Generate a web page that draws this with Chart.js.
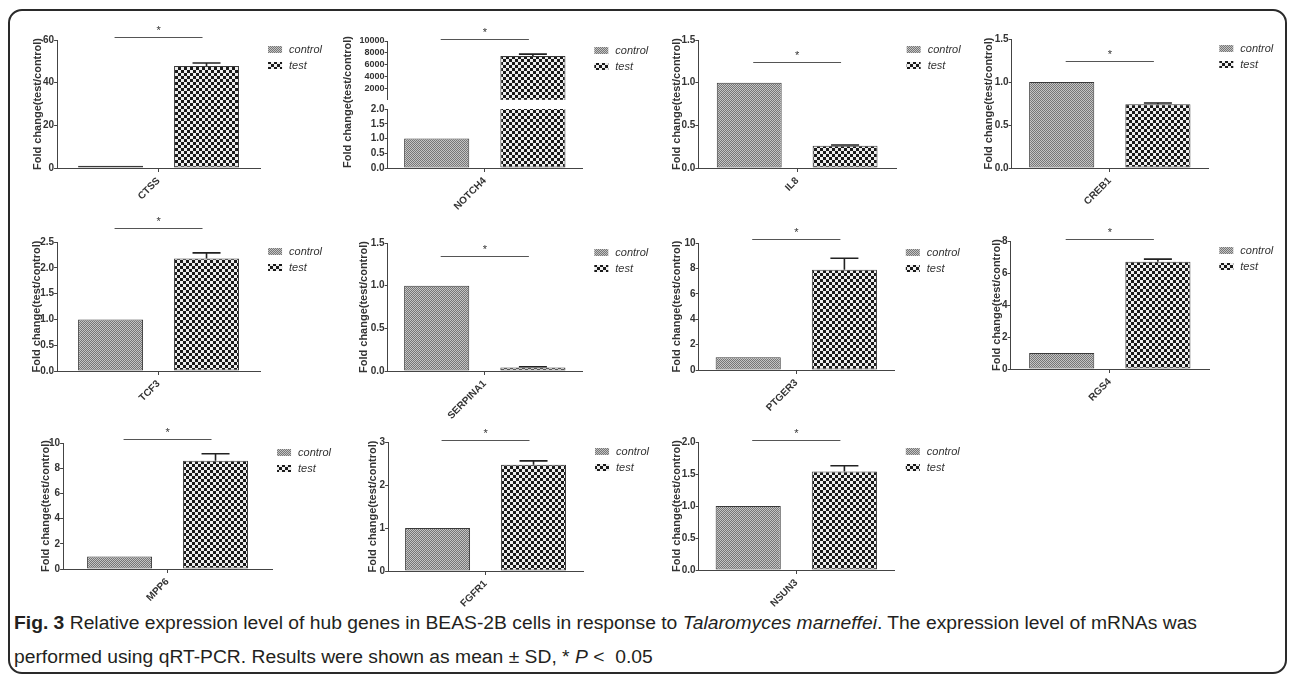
<!DOCTYPE html>
<html>
<head>
<meta charset="utf-8">
<script src="https://cdn.jsdelivr.net/npm/chart.js@4.4.1/dist/chart.umd.min.js"></script>
<style>
  html, body { margin: 0; padding: 0; background: #fff; }
  body { width: 1290px; height: 676px; position: relative; overflow: hidden; }
  #frame { position: absolute; left: 8px; top: 9px; width: 1279px; height: 665px; box-sizing: border-box;
           border: 2px solid #2a2a2a; border-radius: 14px; }
  canvas { position: absolute; }
  .cl { position: absolute; left: 14px; white-space: nowrap; display: inline-block; transform-origin: 0 50%;
        font-family: "Liberation Sans Narrow", "Liberation Sans", sans-serif;
        font-size: 18px; color: #231f20; line-height: 20px; }
  #l1 { top: 613px; }
  #l2 { top: 647px; }
</style>
</head>
<body>
<div id="frame"></div>
<div id="l1" class="cl"><b>Fig. 3</b> Relative expression level of hub genes in BEAS-2B cells in response to <i>Talaromyces marneffei</i>. The expression level of mRNAs was</div>
<div id="l2" class="cl">performed using qRT-PCR. Results were shown as mean ± SD, * <i>P</i> &lt;&nbsp; 0.05</div>
<script>
// ---------------- data ----------------
const genes       = ['CTSS', 'NOTCH4', 'IL8', 'CREB1', 'TCF3', 'SERPINA1', 'PTGER3', 'RGS4', 'MPP6', 'FGFR1', 'NSUN3'];
const seriesNames = ['control', 'test'];
const controlMean = [1, 1, 1, 1, 1, 1, 1, 1, 1, 1, 1];
const controlSD   = [0, 0, 0, 0, 0, 0, 0, 0, 0, 0, 0];
const testMean    = [47.8, 7500, 0.26, 0.74, 2.18, 0.04, 7.9, 6.7, 8.6, 2.47, 1.54];
const testSD      = [1.4, 300, 0.01, 0.015, 0.11, 0.01, 0.9, 0.17, 0.55, 0.09, 0.09];
const yMax        = [60, 2.0, 1.5, 1.5, 2.5, 1.5, 10, 8, 10, 3, 2.0];
const yStep       = [20, 0.5, 0.5, 0.5, 0.5, 0.5, 2, 2, 2, 1, 0.5];
const sigLevel    = [61.4, 10300, 1.24, 1.24, 2.77, 1.35, 10.3, 8.1, 10.3, 3.05, 2.03];
const sigMark     = ['*', '*', '*', '*', '*', '*', '*', '*', '*', '*', '*'];
// NOTCH4 broken axis: upper segment
const upperMin    = 120;
const upperMax    = 10000;
const upperTicks  = [2000, 4000, 6000, 8000, 10000];
const yTitle      = 'Fold change(test/control)';

// ---------------- layout (pixel placement of each panel) ----------------
const layout = [
  { ax: 57,   c: 158.5, top: 40,  bot: 168, tOff: 19.5 },
  { ax: 388,  c: 485,   top: 109, bot: 168, tOff: 40, upperTop: 40.7, upperBot: 99.5 },
  { ax: 698,  c: 797,   top: 40,  bot: 168, tOff: 21.7 },
  { ax: 1012, c: 1110,  top: 39,  bot: 168, tOff: 23 },
  { ax: 57,   c: 158.5, top: 242, bot: 371, tOff: 20.5 },
  { ax: 388,  c: 485,   top: 243, bot: 371, tOff: 24 },
  { ax: 699,  c: 796.5, top: 243, bot: 370, tOff: 22 },
  { ax: 1011, c: 1110,  top: 241, bot: 369, tOff: 14 },
  { ax: 63,   c: 167.5, top: 443, bot: 569, tOff: 17.5 },
  { ax: 388,  c: 485.5, top: 442, bot: 571, tOff: 15.5 },
  { ax: 699,  c: 796.5, top: 442, bot: 570, tOff: 22 }
];

const FONT = '"Liberation Sans", Arial, sans-serif';
Chart.defaults.font.family = FONT;
Chart.defaults.color = '#333';

function makePattern(kind) {
  const c = document.createElement('canvas');
  const g = c.getContext('2d');
  if (kind === 0) {
    c.width = 2; c.height = 2;
    g.fillStyle = '#c4c4c4'; g.fillRect(0, 0, 2, 2);
    g.fillStyle = '#767676'; g.fillRect(0, 0, 1, 1); g.fillRect(1, 1, 1, 1);
  } else {
    c.width = 6; c.height = 6;
    g.fillStyle = '#1a1a1a'; g.fillRect(0, 0, 6, 6);
    g.fillStyle = '#eeeeee'; g.fillRect(0, 0, 3, 3); g.fillRect(3, 3, 3, 3);
  }
  return document.createElement('canvas').getContext('2d').createPattern(c, 'repeat');
}
const patterns = [makePattern(0), makePattern(1)];

const annotPlugin = {
  id: 'annot',
  afterDatasetsDraw(chart, args, opts) {
    const ctx = chart.ctx;
    const y = chart.scales.y;
    const i = opts.idx;
    const barC = chart.getDatasetMeta(0).data[0];
    const barT = chart.getDatasetMeta(1).data[0];
    ctx.save();
    if (opts.errors) {
      [[barC, controlMean[i], controlSD[i]], [barT, testMean[i], testSD[i]]].forEach(([bar, m, sd]) => {
        if (!sd) return;
        const hi = m + sd;
        if (hi > y.max || m < y.min) return;
        const p0 = y.getPixelForValue(m), p1 = y.getPixelForValue(hi);
        ctx.strokeStyle = '#222'; ctx.lineWidth = 1.6;
        ctx.beginPath();
        ctx.moveTo(bar.x, p0); ctx.lineTo(bar.x, p1);
        ctx.moveTo(bar.x - 14, p1); ctx.lineTo(bar.x + 14, p1);
        ctx.stroke();
      });
    }
    if (opts.sig) {
      const sy = Math.round(y.getPixelForValue(sigLevel[i])) + 0.5;
      ctx.strokeStyle = '#555'; ctx.lineWidth = 1;
      ctx.beginPath(); ctx.moveTo(barC.x + 4, sy); ctx.lineTo(barT.x - 4, sy); ctx.stroke();
      ctx.fillStyle = '#333'; ctx.font = '11px ' + FONT;
      ctx.textAlign = 'center'; ctx.textBaseline = 'middle';
      ctx.fillText(sigMark[i], (barC.x + barT.x) / 2, sy - 7);
    }
    if (opts.legend) {
      const lx = (barC.x + barT.x) / 2 + 109.5;
      const ly = y.getPixelForValue(y.max) + 9.5;
      chart.data.datasets.forEach((ds, k) => {
        const yy = ly + k * 16;
        ctx.fillStyle = ds.backgroundColor;
        ctx.fillRect(lx, yy - 3.5, 14, 7);
        ctx.fillStyle = '#333';
        ctx.font = 'italic 11px ' + FONT;
        ctx.textAlign = 'left'; ctx.textBaseline = 'middle';
        ctx.fillText(ds.label, lx + 21, yy);
      });
    }
    ctx.restore();
  }
};

function makeChart(i, seg) {
  const L = layout[i];
  const yW = L.tOff + 6.6;
  const right = 2 * L.c - L.ax;
  const W = right - L.ax;
  const cp = 192 / W, bp = 65 / 96;
  const isUpper = seg === 'upper';
  const top = isUpper ? L.upperTop : L.top;
  const bot = isUpper ? L.upperBot : L.bot;
  const padTop = (seg === 'lower') ? 80 : 45;
  const xH = isUpper ? 0 : 50;
  const padRight = 95;

  const cv = document.createElement('canvas');
  const cw = Math.round(W + yW + padRight);
  const ch = Math.round(padTop + (bot - top) + xH);
  cv.width = cw; cv.height = ch;
  cv.style.left = (L.ax - yW) + 'px';
  cv.style.top = (top - padTop) + 'px';
  cv.style.width = cw + 'px'; cv.style.height = ch + 'px';
  document.body.appendChild(cv);

  const yMin = isUpper ? upperMin : 0;
  const yMx = isUpper ? upperMax : yMax[i];
  const step = isUpper ? 2000 : yStep[i];
  const dec = step < 1 ? 1 : 0;

  const dsBase = (k, vals) => ({
    label: seriesNames[k],
    data: [vals[i]],
    backgroundColor: patterns[k],
    borderColor: '#3a3a3a',
    borderWidth: 1,
    borderSkipped: false,
    clip: 0,
    categoryPercentage: cp,
    barPercentage: bp
  });

  const yScale = {
    min: yMin, max: yMx,
    ticks: {
      stepSize: step, padding: 0, color: '#333', autoSkip: false,
      font: { size: isUpper ? 9 : 10, weight: 'bold', family: FONT, lineHeight: 1 },
      callback: v => (isUpper ? (upperTicks.includes(v) ? String(v) : '') : Number(v).toFixed(dec))
    },
    grid: { drawOnChartArea: false, tickLength: 3, color: '#444' },
    border: { color: '#444', width: 1 },
    title: {
      display: !isUpper, text: yTitle, padding: 0, color: '#333',
      align: seg === 'lower' ? 'start' : 'center',
      font: { size: 11, weight: 'bold', family: FONT, lineHeight: 1.2 }
    },
    afterFit: s => { s.width = yW; s.paddingTop = 0; s.paddingBottom = 0; }
  };
  if (isUpper) {
    yScale.afterBuildTicks = s => { s.ticks = [upperMin].concat(upperTicks).map(v => ({ value: v })); };
  }

  new Chart(cv, {
    type: 'bar',
    data: { labels: [genes[i]], datasets: [dsBase(0, controlMean), dsBase(1, testMean)] },
    options: {
      responsive: false, animation: false, devicePixelRatio: 1,
      layout: { padding: { top: padTop, right: padRight, left: 0, bottom: 0 } },
      plugins: {
        legend: { display: false }, tooltip: { enabled: false },
        annot: { idx: i, errors: true, sig: seg !== 'lower', legend: seg !== 'lower' }
      },
      scales: {
        x: {
          display: !isUpper,
          ticks: { minRotation: 45, maxRotation: 45, padding: 3, color: '#333', autoSkip: false,
                   font: { size: 10, weight: 'bold', family: FONT } },
          grid: { offset: false, drawOnChartArea: false, tickLength: 4, color: '#444' },
          border: { color: '#444', width: 1 },
          afterFit: s => { s.height = xH; s.paddingLeft = 0; s.paddingRight = 0; }
        },
        y: yScale
      }
    },
    plugins: [annotPlugin]
  });
}

genes.forEach((g, i) => {
  if (layout[i].upperTop !== undefined) {
    makeChart(i, 'lower');
    makeChart(i, 'upper');
  } else {
    makeChart(i, 'single');
  }
});

// fit caption lines to the reference width
const l1 = document.getElementById('l1');
const s = 1183 / l1.getBoundingClientRect().width;
document.querySelectorAll('.cl').forEach(e => { e.style.transform = 'scaleX(' + s + ')'; });
</script>
</body>
</html>
